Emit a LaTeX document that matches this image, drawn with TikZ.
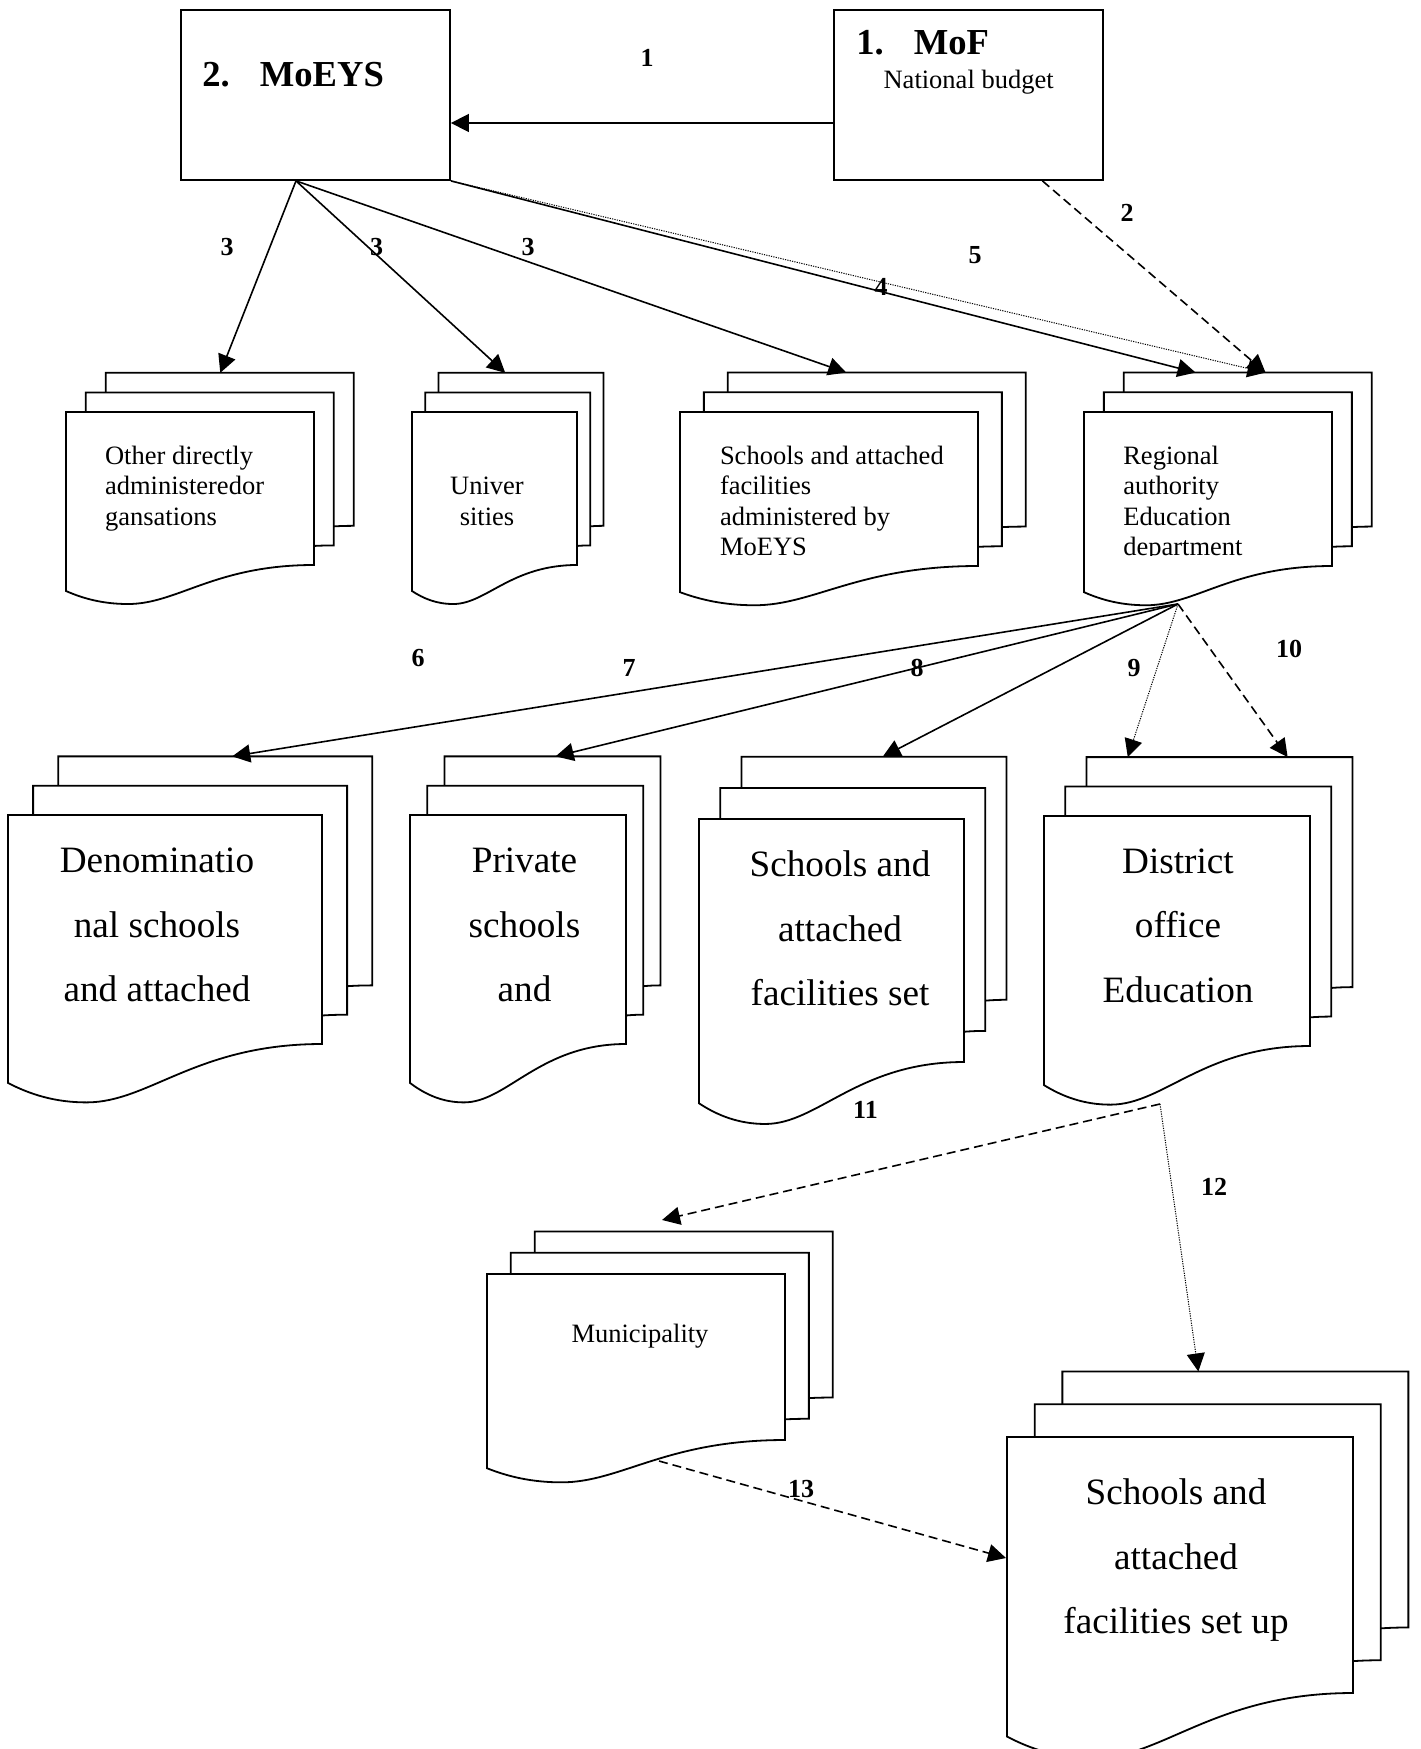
\documentclass[tikz,border=0pt]{standalone}
\usepackage{fontspec}
\setmainfont{Liberation Serif}
\usetikzlibrary{arrows.meta,calc}

% stack of three pages, front page given by top left corner, width and height
\newcommand{\docstack}[5]{%
  \foreach \k in {2,1,0}{%
    \pgfmathsetmacro\pgX{#2+0.08*\k*#4}
    \pgfmathsetmacro\pgY{#3-0.128*\k*#5}
    \draw[page] (\pgX,\pgY) -- ++(#4,0) -- ++(0,#5)
      .. controls ({\pgX+0.6*#4},{\pgY+#5}) and ({\pgX+0.45*#4},{\pgY+1.255*#5}) .. ({\pgX+0.25*#4},{\pgY+1.255*#5})
      .. controls ({\pgX+0.15*#4},{\pgY+1.255*#5}) and ({\pgX+0.07*#4},{\pgY+1.22*#5}) .. (\pgX,{\pgY+1.17*#5}) -- cycle;
  }
  \coordinate (#1-nw) at ({#2+0.16*#4},{#3-0.256*#5});
  \coordinate (#1-ne) at ({#2+1.16*#4},{#3-0.256*#5});
}

\tikzset{
  page/.style={draw,fill=white,line width=0.9pt},
  box/.style={draw,line width=0.9pt,minimum width=134.5pt,minimum height=85pt,inner sep=0pt},
  flow/.style={line width=0.8pt,-{Triangle[length=9pt,width=9pt]}},
  dashflow/.style={flow,dash pattern=on 4.5pt off 2.5pt},
  dotflow/.style={flow,line width=0.5pt,dash pattern=on 0.6pt off 0.6pt},
  num/.style={font=\fontsize{13}{15}\selectfont\bfseries,inner sep=0pt},
  small/.style={font=\fontsize{13.25}{15.25}\selectfont,inner sep=0pt,align=left,anchor=base west},
  big/.style={font=\fontsize{18.6}{32.25}\selectfont,inner sep=0pt,align=center,anchor=base},
  head/.style={font=\fontsize{18.3}{20}\selectfont\bfseries,inner sep=0pt,anchor=base west},
}

\begin{document}
\begin{tikzpicture}[x=0.5pt,y=-0.5pt]
	\useasboundingbox (0,0) rectangle (1420,1749);

	% ministries
	\node[box] (moeys) at (315.5,95) {};
	\node[box] (mof) at (968.5,95) {};
	\node[head] (moeys-t) at (202,86.7) {2.\hspace{15pt}MoEYS};
	\node[head] (mof-t) at (856,55) {1.\hspace{15pt}MoF};
	\node[small,anchor=base] (mof-b) at (968.6,89) {National budget};

	% document stacks
	\docstack{other}{66}{412}{248}{153}
	\docstack{univ}{412}{412}{165}{153}
	\docstack{direct}{680}{412}{298}{154}
	\docstack{region}{1084}{412}{248}{154}
	\docstack{denom}{8}{815}{314}{229}
	\docstack{private}{410}{815}{216}{229}
	\docstack{setschools}{699}{819}{265}{243}
	\docstack{district}{1044}{816}{266}{230}
	\docstack{municip}{487}{1274}{298}{166}
	\docstack{setup}{1007}{1437}{346}{256}

	% texts, placed on the baseline of their last line
	\node[small] (other-t) at (104.7,525) {Other directly\\administeredor\\gansations};
	\node[small,align=center,anchor=base] (univ-t) at (487,525) {Univer\\sities};
	\begin{scope}
		\clip (600,380) rectangle (1400,555.5);
		\node[small] (direct-t) at (719.6,555.5) {Schools and attached\\facilities\\administered by\\MoEYS};
		\node[small] (region-t) at (1122.9,555.5) {Regional\\authority\\Education\\department};
	\end{scope}
	\node[big] (denom-t) at (157,1001.5) {Denominatio\\nal schools\\and attached};
	\node[big] (private-t) at (524.5,1001.5) {Private\\schools\\and};
	\node[big] (setschools-t) at (840,1005.5) {Schools and\\attached\\facilities set};
	\node[big] (district-t) at (1178,1002) {District\\office\\Education};
	\node[big] (setup-t) at (1176,1633.5) {Schools and\\attached\\facilities set up};
	\node[small,anchor=base] (municip-t) at (640,1342) {Municipality};

	% connector ends
	\coordinate (region-out) at (1178,604);
	\coordinate (district-out) at (1160,1104);
	\coordinate (municip-out) at (659,1461);
	\coordinate (municip-in) at (662,1220);
	\coordinate (setup-in) at (1006,1558);

	\draw[flow] ([yshift=-14pt]mof.west) -- ([yshift=-14pt]moeys.east);
	\draw[flow] ([xshift=-9.75pt]moeys.south) -- ($(other-nw)!0.462!(other-ne)$);
	\draw[flow] ([xshift=-9.75pt]moeys.south) -- ($(univ-nw)!0.405!(univ-ne)$);
	\draw[flow] ([xshift=-9.75pt]moeys.south) -- ($(direct-nw)!0.398!(direct-ne)$);
	\draw[flow] (moeys.south east) -- ($(region-nw)!0.29!(region-ne)$);
	\draw[dotflow] (moeys.south east) -- ($(region-nw)!0.572!(region-ne)$);
	\draw[dashflow] ($(mof.south west)!0.773!(mof.south east)$) -- ($(region-nw)!0.572!(region-ne)$);
	\draw[flow] (region-out) -- ($(denom-nw)!0.554!(denom-ne)$);
	\draw[flow] (region-out) -- ($(private-nw)!0.514!(private-ne)$);
	\draw[flow] (region-out) -- ($(setschools-nw)!0.533!(setschools-ne)$);
	\draw[dotflow] (region-out) -- ($(district-nw)!0.155!(district-ne)$);
	\draw[dashflow] (region-out) -- ($(district-nw)!0.756!(district-ne)$);
	\draw[dashflow] (district-out) -- (municip-in);
	\draw[dotflow] (district-out) -- ($(setup-nw)!0.393!(setup-ne)$);
	\draw[dashflow] (municip-out) -- (setup-in);

	% flow numbers
	\node[num] (n1) at (647,58) {1};
	\node[num] (n2) at (1127,213) {2};
	\node[num] (n3a) at (227,247) {3};
	\node[num] (n3b) at (376.5,247) {3};
	\node[num] (n3c) at (528,247) {3};
	\node[num] (n4) at (881,287) {4};
	\node[num] (n5) at (975,255) {5};
	\node[num] (n6) at (418,658) {6};
	\node[num] (n7) at (629,668) {7};
	\node[num] (n8) at (917,668) {8};
	\node[num] (n9) at (1134,668) {9};
	\node[num] (n10) at (1289,649) {10};
	\node[num] (n11) at (865.5,1110) {11};
	\node[num] (n12) at (1214,1187) {12};
	\node[num] (n13) at (801,1489) {13};
\end{tikzpicture}
\end{document}
